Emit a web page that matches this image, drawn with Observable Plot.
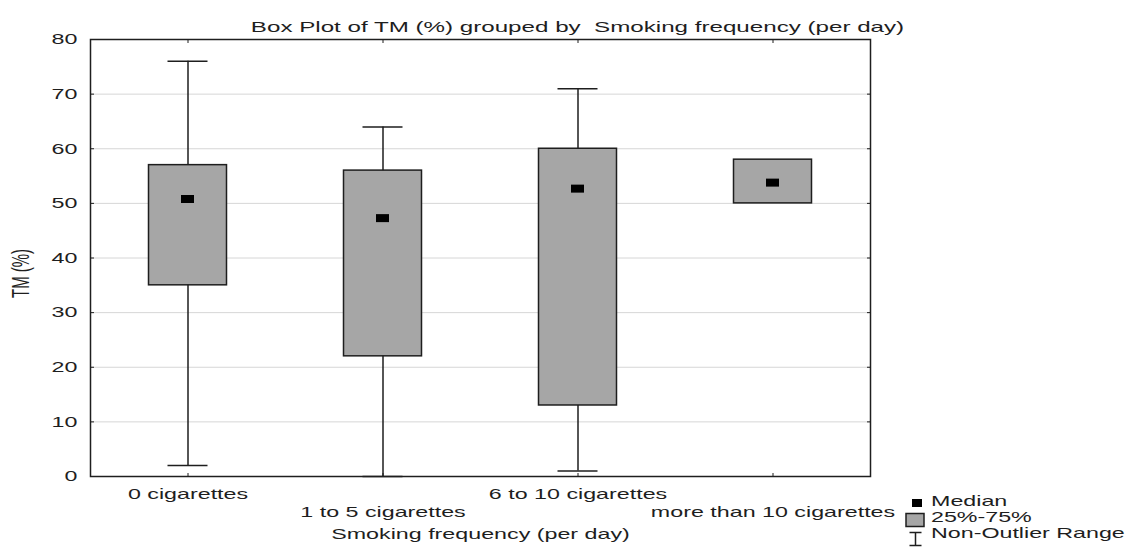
<!DOCTYPE html>
<html>
<head>
<meta charset="utf-8">
<script src="https://cdn.jsdelivr.net/npm/d3@7"></script>
<script src="https://cdn.jsdelivr.net/npm/@observablehq/plot@0.6"></script>
<style>
  html, body { margin: 0; padding: 0; background: #fff; }
  #wrap { position: relative; width: 1139px; height: 549px; overflow: hidden; }
</style>
</head>
<body>
<div id="wrap"></div>
<script>
// ---- data ----
const categories = ["0 cigarettes", "1 to 5 cigarettes", "6 to 10 cigarettes", "more than 10 cigarettes"];
const whiskerLow  = [2, 0, 1, null];
const q1          = [35, 22, 13, 50];
const median      = [50.8, 47.3, 52.7, 53.8];
const q3          = [57, 56, 60, 58];
const whiskerHigh = [76, 64, 71, null];
const yTicks = [0, 10, 20, 30, 40, 50, 60, 70, 80];
const titleText = "Box Plot of TM (%) grouped by  Smoking frequency (per day)";
const xLabel = "Smoking frequency (per day)";
const yLabel = "TM (%)";
const legendItems = ["Median", "25%-75%", "Non-Outlier Range"];

const rows = categories.map((cat, i) => ({cat, lo: whiskerLow[i], q1: q1[i], med: median[i], q3: q3[i], hi: whiskerHigh[i]}));
const withWhiskers = rows.filter(d => d.hi != null);

const ink = "#1e1e1e";
const STRETCH = 1.55;
const TITLE_STRETCH = 1.61;

const chart = Plot.plot({
  width: 1139,
  height: 549,
  marginLeft: 90,
  marginRight: 269,
  marginTop: 39,
  marginBottom: 73,
  style: {fontFamily: "'Liberation Sans', Arial, sans-serif", fontSize: "15px", color: ink, background: "#fff"},
  x: {type: "band", domain: categories, padding: 0, axis: null},
  y: {domain: [0, 80], axis: null},
  marks: [
    Plot.gridY(yTicks.slice(1, -1), {stroke: "#d6d6d6", strokeOpacity: 1, strokeWidth: 1}),
    Plot.ruleX(withWhiskers, {x: "cat", y1: "lo", y2: "hi", stroke: ink, strokeWidth: 1.5}),
    Plot.tickY(withWhiskers, {x: "cat", y: "hi", insetLeft: 77.5, insetRight: 77.5, stroke: ink, strokeWidth: 1.5}),
    Plot.tickY(withWhiskers, {x: "cat", y: "lo", insetLeft: 77.5, insetRight: 77.5, stroke: ink, strokeWidth: 1.5}),
    Plot.barY(rows, {x: "cat", y1: "q1", y2: "q3", fill: "#a6a6a6", stroke: ink, strokeWidth: 1.5, insetLeft: 58.5, insetRight: 58.5}),
    Plot.tickY(rows, {x: "cat", y: "med", insetLeft: 91, insetRight: 91, stroke: "#000", strokeWidth: 8}),
    Plot.frame({stroke: ink, strokeWidth: 1.5}),
    // left axis: inward ticks + labels
    Plot.axisY(yTicks, {anchor: "left", tickSize: -4, tickFormat: () => "", label: null, stroke: ink}),
    Plot.axisY(yTicks, {anchor: "left", tickSize: 0, tickPadding: 13, label: null}),
    // right axis: inward ticks only
    Plot.axisY(yTicks, {anchor: "right", tickSize: -4, tickFormat: () => "", label: null, stroke: ink}),
    // top & bottom inward ticks
    Plot.axisX(categories, {anchor: "top", tickSize: -3, tickFormat: () => "", label: null, stroke: ink}),
    Plot.axisX(categories, {anchor: "bottom", tickSize: -3, tickFormat: () => "", label: null, stroke: ink}),
    // staggered category labels
    Plot.axisX(categories.filter((d, i) => i % 2 === 0), {anchor: "bottom", tickSize: 0, tickPadding: 12, label: null}),
    Plot.axisX(categories.filter((d, i) => i % 2 === 1), {anchor: "bottom", tickSize: 0, tickPadding: 30, label: null}),
    // axis titles and chart title
    Plot.text([xLabel], {frameAnchor: "bottom", dy: 62, fill: ink}),
    Plot.text([titleText], {frameAnchor: "top", dy: -18, dx: 97, fill: ink, className: "chart-title"}),
    Plot.text([yLabel], {frameAnchor: "left", dx: -69, dy: 40, rotate: -90, fill: ink})
  ]
});

document.getElementById("wrap").append(chart);

// legend (drawn into the same svg)
const svg = d3.select(chart);
const lg = svg.append("g").attr("class", "legend");
lg.append("rect").attr("x", 912).attr("y", 499).attr("width", 10).attr("height", 8).attr("fill", "#000");
lg.append("rect").attr("x", 906).attr("y", 513.5).attr("width", 18).attr("height", 13).attr("fill", "#a6a6a6").attr("stroke", ink).attr("stroke-width", 1.5);
lg.append("path").attr("d", "M909.5,532.5H921.5M915.5,532.5V545.5M909.5,545.5H921.5").attr("fill", "none").attr("stroke", ink).attr("stroke-width", 1.5);
const baselines = [506, 522, 538];
legendItems.forEach((t, i) => {
  lg.append("text").attr("x", 931).attr("y", baselines[i]).attr("fill", ink).attr("text-anchor", "start").text(t);
});

// horizontally stretch all text to match the reference's wide lettering
chart.querySelectorAll("text").forEach(el => {
  const tf = el.getAttribute("transform") || "";
  if (/rotate/.test(tf)) {
    el.setAttribute("transform", tf + " scale(1," + STRETCH + ")");
    return;
  }
  const k = el.closest(".chart-title") ? TITLE_STRETCH : STRETCH;
  const targets = el.querySelectorAll("tspan").length ? el.querySelectorAll("tspan") : [el];
  targets.forEach(t => {
    const w = t.getComputedTextLength();
    if (w > 0) {
      t.setAttribute("textLength", (w * k).toFixed(1));
      t.setAttribute("lengthAdjust", "spacingAndGlyphs");
    }
  });
});
</script>
</body>
</html>
